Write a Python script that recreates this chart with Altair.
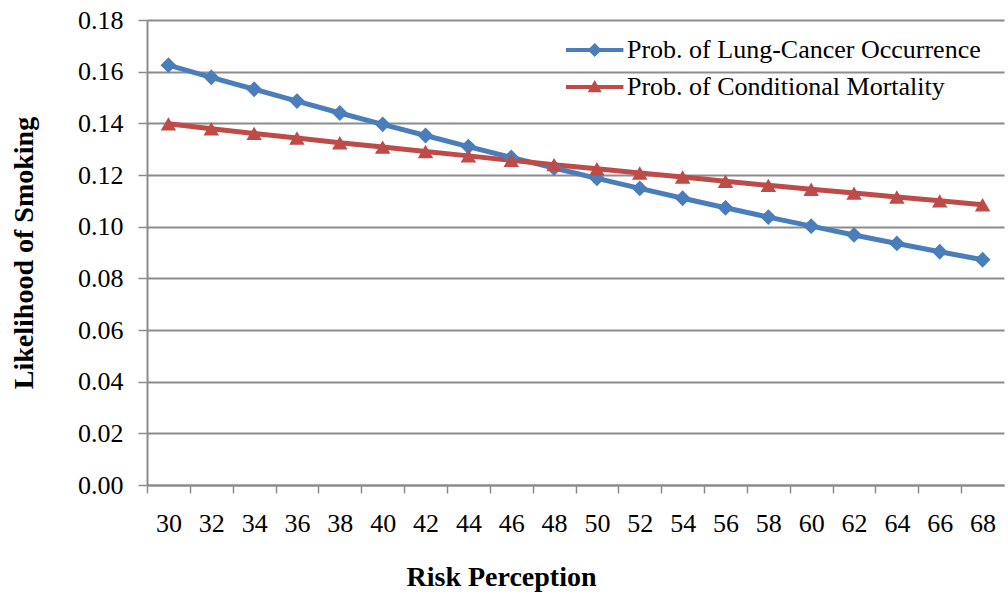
import altair as alt
import pandas as pd

risk = [30, 32, 34, 36, 38, 40, 42, 44, 46, 48, 50, 52, 54, 56, 58, 60, 62, 64, 66, 68]
lung = [0.1625, 0.1578, 0.1532, 0.1486, 0.1440, 0.1396, 0.1353, 0.1310, 0.1268, 0.1227,
        0.1187, 0.1148, 0.1110, 0.1073, 0.1037, 0.1002, 0.0968, 0.0935, 0.0903, 0.0872]
mort = [0.1398, 0.1379, 0.1361, 0.1343, 0.1325, 0.1308, 0.1291, 0.1274, 0.1257, 0.1240,
        0.1224, 0.1208, 0.1192, 0.1176, 0.1160, 0.1145, 0.1130, 0.1115, 0.1100, 0.1085]
series_names = ["Prob. of Lung-Cancer Occurrence", "Prob. of Conditional Mortality"]
colors = ["#4A7EBB", "#BE4B48"]
y_ticks = [0.0, 0.02, 0.04, 0.06, 0.08, 0.10, 0.12, 0.14, 0.16, 0.18]

rows = []
for r, a, b in zip(risk, lung, mort):
    rows.append({"risk": str(r), "value": a, "series": series_names[0]})
    rows.append({"risk": str(r), "value": b, "series": series_names[1]})
df = pd.DataFrame(rows)

W, H = 857, 465
step = W / len(risk)
FONT = "Liberation Serif"
GRAY = "#8C8C8C"

x_enc = alt.X("risk:O", sort=[str(r) for r in risk],
              scale=alt.Scale(type="point", padding=0.5),
              axis=alt.Axis(title="Risk Perception", labelAngle=0, grid=False,
                            tickOffset=-step / 2, labelOffset=step / 2,
                            tickSize=8, labelPadding=17,
                            titleX=354, titleY=92, titleBaseline="middle", titleAlign="center"))
y_enc = alt.Y("value:Q", scale=alt.Scale(domain=[0, 0.18], nice=False, zero=True),
              axis=alt.Axis(title="Likelihood of Smoking", values=y_ticks, format=".2f",
                            grid=True, tickSize=9, labelPadding=15,
                            titleX=-123, titleY=H / 2, titleBaseline="middle", titleAlign="center",
                            titleAngle=-90))
color_scale = alt.Scale(domain=series_names, range=colors)

lines = alt.Chart(df).mark_line(strokeWidth=5).encode(
    x=x_enc, y=y_enc,
    color=alt.Color("series:N", scale=color_scale, legend=None),
)

diam = alt.Chart(df).transform_filter(alt.datum.series == series_names[0]).mark_point(
    shape="diamond", filled=True, size=250, opacity=1, color=colors[0]
).encode(x=x_enc, y=y_enc)
tri = alt.Chart(df).transform_filter(alt.datum.series == series_names[1]).mark_point(
    shape="triangle-up", filled=True, size=240, opacity=1, color=colors[1]
).encode(x=x_enc, y=y_enc)

leg_paths = ["M-1,-0.3H7.2V0.3H-1Z M2.1,0L3.1,-1L4.1,0L3.1,1Z",
             "M-1,-0.3H7.2V0.3H-1Z M2.1,0.75L3.1,-1L4.1,0.75Z"]
leg = alt.Legend(title=None, orient="none", legendX=413, legendY=17,
                 labelOffset=41, rowPadding=11, symbolSize=196, symbolStrokeWidth=0)
legend_layer = alt.Chart(df).transform_filter("false").mark_point(
    filled=True, size=196, opacity=1, strokeWidth=0
).encode(
    x=x_enc, y=y_enc,
    color=alt.Color("series:N", scale=color_scale, legend=leg),
    shape=alt.Shape("series:N", scale=alt.Scale(domain=series_names, range=leg_paths),
                    legend=leg),
)

chart = alt.layer(lines, diam, tri, legend_layer).resolve_scale(
    color="independent", shape="independent"
).properties(
    width=W, height=H,
    autosize=alt.AutoSizeParams(type="none"),
    padding={"left": 147, "top": 20, "right": 4, "bottom": 109},
).configure(
    font=FONT,
    background="white",
).configure_view(stroke=None).configure_axis(
    labelFont=FONT, labelFontSize=26, labelColor="black",
    titleFont=FONT, titleFontSize=28, titleFontWeight="bold", titleColor="black",
    domainColor=GRAY, domainWidth=2, tickColor=GRAY, tickWidth=1.5,
    gridColor=GRAY, gridWidth=2, gridOpacity=1,
).configure_legend(
    labelFont=FONT, labelFontSize=26, labelColor="black", labelLimit=500, padding=0,
)

chart.save("out.html", embed_options={"renderer": "svg", "actions": False})
